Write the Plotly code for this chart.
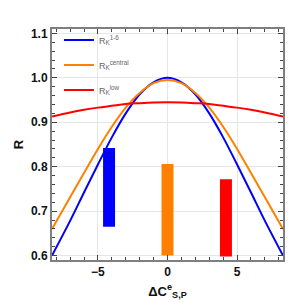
import plotly.graph_objects as go

# curve sample points
x_pts = [-8.3, -7, -6, -5, -4, -3, -2, -1, 0, 1, 2, 3, 4, 5, 6, 7, 8.3]
blue_R = [0.600, 0.678, 0.742, 0.805, 0.866, 0.920, 0.963, 0.990, 1.000,
          0.990, 0.963, 0.920, 0.866, 0.805, 0.742, 0.678, 0.600]
orange_R = [0.660, 0.731, 0.786, 0.840, 0.890, 0.933, 0.966, 0.988, 0.995,
            0.988, 0.966, 0.933, 0.890, 0.840, 0.786, 0.731, 0.660]
red_R = [0.913, 0.922, 0.928, 0.933, 0.937, 0.941, 0.943, 0.9445, 0.945,
         0.9445, 0.943, 0.941, 0.937, 0.933, 0.928, 0.922, 0.913]

# measurement bands
band_x = [-4.2, 0.0, 4.2]
band_low = [0.665, 0.600, 0.598]
band_high = [0.842, 0.806, 0.772]
band_colors = ["#0000ff", "#ff8000", "#ff0000"]

names = ["R<sub>K</sub><sup>1-6</sup>", "R<sub>K</sub><sup>central</sup>", "R<sub>K</sub><sup>low</sup>"]
line_colors = ["#0000ff", "#ff8000", "#ff0000"]

fig = go.Figure()

for xc, lo, hi, c in zip(band_x, band_low, band_high, band_colors):
    fig.add_trace(go.Bar(x=[xc], y=[hi - lo], base=[lo], width=0.86,
                         marker=dict(color=c, line=dict(width=0)),
                         showlegend=False))

for i, (ys, c, n) in enumerate(zip([blue_R, orange_R, red_R], line_colors, names)):
    fig.add_trace(go.Scatter(x=x_pts, y=ys, mode="lines", name=n,
                             line=dict(color=c, width=2, shape="spline"),
                             legendgroup=str(i)))

axis_common = dict(
    automargin=False,
    showline=True, linecolor="#7f7f7f", linewidth=2, mirror="allticks",
    ticks="inside", ticklen=5, tickcolor="#444", tickwidth=1,
    showgrid=True, gridcolor="#e6e6e6", gridwidth=1, zeroline=False,
    tickfont=dict(family="Liberation Sans, Arial", size=12, color="#111"),
    minor=dict(ticks="inside", ticklen=3, tickcolor="#444", showgrid=False),
)

fig.update_layout(
    width=292, height=294,
    margin=dict(l=44, r=17, t=21, b=42, autoexpand=False),
    paper_bgcolor="white", plot_bgcolor="white",
    barmode="overlay",
    font=dict(family="Liberation Sans, Arial"),
    legend=dict(x=0.03, y=1.015, xanchor="left", yanchor="top",
                bgcolor="rgba(0,0,0,0)", tracegroupgap=6,
                font=dict(size=9, color="#666"), itemwidth=30),
    xaxis=dict(range=[-8.3, 8.3], tickvals=[-5, 0, 5], ticktext=["<b>−5</b>", "<b>0</b>", "<b>5</b>"],
               minor_dtick=1,
               title=dict(text="<b>ΔC<sup>e</sup><sub>S,P</sub></b>", standoff=8,
                          font=dict(size=13, color="#111")),
               **axis_common),
    yaxis=dict(range=[0.59, 1.11], tickvals=[0.6, 0.7, 0.8, 0.9, 1.0, 1.1],
               ticktext=["<b>0.6</b>", "<b>0.7</b>", "<b>0.8</b>", "<b>0.9</b>", "<b>1.0</b>", "<b>1.1</b>"],
               minor_dtick=0.02,
               title=dict(text="<b>R</b>", standoff=4, font=dict(size=13, color="#111")),
               **axis_common),
)

fig.write_html("out.html")
